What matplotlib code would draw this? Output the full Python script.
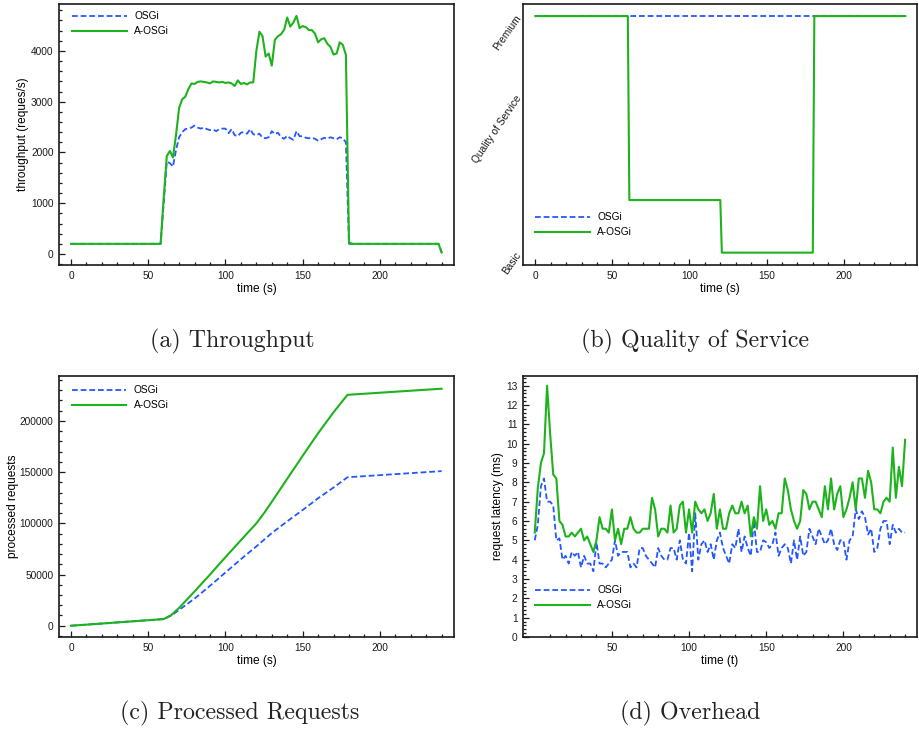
import numpy as np
import matplotlib
matplotlib.use("Agg")
import matplotlib.pyplot as plt
from matplotlib.ticker import MultipleLocator, FixedLocator

# ---------------- data ----------------
series_names = ["OSGi", "A-OSGi"]

# (a) throughput
tp_time = [0, 58, 60, 62, 64, 66, 68, 70, 72, 74, 76, 78, 80, 82, 84, 86, 88, 90,
           92, 94, 96, 98, 100, 102, 104, 106, 108, 110, 112, 114, 116, 118, 120,
           122, 124, 126, 128, 130, 132, 134, 136, 138, 140, 142, 144, 146, 148,
           150, 152, 154, 156, 158, 160, 162, 164, 166, 168, 170, 172, 174, 176,
           178, 180, 182, 238, 240]
tp_osgi = [200, 200, 1000, 1820, 1790, 1720, 2050, 2300, 2400, 2460, 2470, 2490,
           2530, 2490, 2470, 2490, 2460, 2440, 2450, 2420, 2460, 2470, 2470, 2380,
           2460, 2340, 2320, 2390, 2400, 2370, 2460, 2360, 2340, 2370, 2290, 2280,
           2300, 2420, 2360, 2390, 2300, 2270, 2330, 2280, 2250, 2420, 2320, 2320,
           2290, 2280, 2290, 2270, 2230, 2260, 2290, 2270, 2300, 2280, 2260, 2300,
           2280, 2200, 200, 200, 200, 30]
tp_aosgi = [200, 200, 1100, 1930, 2030, 1900, 2350, 2880, 3050, 3100, 3250, 3360,
            3350, 3390, 3400, 3390, 3380, 3360, 3400, 3390, 3380, 3390, 3370, 3380,
            3360, 3310, 3420, 3350, 3370, 3340, 3380, 3380, 4000, 4380, 4290, 3890,
            3950, 3710, 4220, 4290, 4330, 4420, 4660, 4480, 4560, 4690, 4450, 4490,
            4470, 4410, 4410, 4340, 4170, 4230, 4250, 4140, 4080, 3930, 3950, 4170,
            4120, 3920, 230, 200, 200, 30]

# (b) quality of service (Basic=1 ... Premium=10)
qos_levels = [1, 10]
qos_level_names = ["Basic", "Premium"]
qos_time_osgi = [0, 240]
qos_osgi = [10, 10]
qos_time_aosgi = [0, 60, 61, 120, 121, 180, 181, 240]
qos_aosgi = [10, 10, 3, 3, 1, 1, 10, 10]

# (c) processed requests
pr_time = [0, 60, 65, 70, 75, 80, 90, 100, 110, 120, 125, 130, 140, 150, 160,
           170, 179, 240]
pr_osgi = [0, 6500, 10000, 15500, 21000, 26500, 39000, 52000, 65000, 77500,
           84000, 90500, 102000, 113000, 124500, 135000, 145000, 151000]
pr_aosgi = [0, 6500, 10500, 17500, 25500, 33500, 50000, 67000, 83500, 100000,
            110000, 121000, 143500, 166000, 188000, 208500, 225500, 231500]

# (d) overhead: request latency sampled every 2 s
lat_time = np.arange(0, 241, 2)
lat_osgi = [5.0, 5.8, 7.8, 8.2, 7.0, 7.0, 6.8, 5.0, 5.1, 4.0, 4.2, 3.8, 4.4, 4.2,
            4.4, 3.6, 4.2, 3.8, 3.8, 3.4, 4.9, 3.8, 3.8, 3.6, 3.8, 4.0, 5.0, 4.2,
            4.4, 4.4, 4.4, 3.6, 3.8, 3.6, 4.6, 4.6, 4.2, 4.0, 3.8, 3.6, 4.6, 4.2,
            4.0, 4.0, 4.6, 4.6, 4.0, 5.0, 4.0, 3.8, 5.4, 3.4, 6.4, 4.0, 4.8, 5.0,
            4.4, 4.8, 4.0, 5.0, 5.4, 4.6, 4.2, 3.8, 4.8, 4.6, 5.6, 4.4, 5.2, 4.6,
            4.2, 6.0, 4.4, 4.4, 5.0, 4.9, 4.6, 4.8, 5.4, 4.2, 4.6, 4.8, 4.6, 3.8,
            5.0, 4.0, 5.2, 4.2, 4.4, 5.6, 5.2, 4.8, 5.6, 5.2, 4.8, 5.0, 5.6, 4.8,
            4.5, 5.0, 5.0, 4.0, 5.0, 5.2, 6.6, 6.1, 6.5, 6.2, 5.3, 5.6, 4.4, 4.6,
            5.6, 6.0, 6.0, 4.8, 5.8, 5.4, 5.6, 5.4, 5.4]
lat_aosgi = [5.4, 7.7, 9.0, 9.5, 13.0, 10.5, 8.4, 8.2, 6.0, 5.8, 5.2, 5.2, 5.4,
             5.2, 5.4, 5.6, 5.0, 5.2, 4.8, 4.4, 5.0, 6.2, 5.6, 5.6, 5.4, 6.6, 5.0,
             5.6, 4.8, 5.6, 5.6, 6.2, 5.6, 5.4, 5.4, 5.6, 5.6, 5.6, 7.2, 6.6, 5.2,
             5.6, 5.6, 5.4, 6.8, 5.4, 5.6, 6.8, 7.0, 5.4, 6.6, 5.4, 7.0, 6.6, 6.4,
             6.6, 6.0, 6.4, 7.4, 5.6, 6.6, 5.6, 5.6, 6.4, 6.8, 6.4, 6.4, 7.0, 6.4,
             6.8, 5.2, 6.2, 5.6, 7.8, 6.0, 6.6, 5.8, 6.0, 5.6, 6.4, 6.4, 8.2, 7.6,
             6.6, 6.0, 5.6, 6.0, 7.6, 7.4, 6.6, 7.0, 7.0, 6.6, 6.2, 7.8, 6.6, 8.2,
             6.6, 7.4, 7.8, 6.2, 6.6, 7.2, 8.0, 6.6, 8.2, 8.2, 7.2, 8.6, 8.0, 6.6,
             6.6, 6.4, 7.0, 7.2, 7.0, 9.8, 7.2, 8.8, 7.8, 10.2]

captions = ["(a) Throughput", "(b) Quality of Service",
            "(c) Processed Requests", "(d) Overhead"]

# ---------------- style ----------------
BLUE = "#2457ff"
GREEN = "#1db31d"
SANS = ["Liberation Sans", "DejaVu Sans"]
plt.rcParams["font.family"] = SANS
TICK_FS = 7.3
LABEL_FS = 8.6
W, H = 919, 729

fig = plt.figure(figsize=(W / 100, H / 100), dpi=100)


def make_axes(l, t, r, b):
    return fig.add_axes([l / W, (H - b) / H, (r - l) / W, (b - t) / H])


def style(ax):
    for s in ax.spines.values():
        s.set_linewidth(1.2)
        s.set_color("#1a1a1a")
    ax.tick_params(which="both", direction="in", top=False, right=False,
                   labelsize=TICK_FS, colors="#1a1a1a", width=0.9, pad=4)
    ax.tick_params(which="major", length=4.5)
    ax.tick_params(which="minor", length=2.2)


def draw_pair(ax, xo, yo, xa, ya):
    l1, = ax.plot(xo, yo, color=BLUE, lw=1.3, dashes=(3.2, 1.6),
                  label=series_names[0], zorder=2)
    l2, = ax.plot(xa, ya, color=GREEN, lw=1.5, label=series_names[1], zorder=3)
    return l1, l2


def legend(ax, x, y):
    ax.legend(loc="upper left", bbox_to_anchor=(x, y), frameon=False,
              fontsize=TICK_FS, handlelength=5.4, handletextpad=0.75,
              borderpad=0, borderaxespad=0, labelspacing=0.5)


def labels(ax, xl, yl, ylx, xly=-0.092):
    ax.set_xlabel(xl, fontsize=LABEL_FS)
    ax.xaxis.set_label_coords(0.5, xly)
    ax.xaxis.label.set_va("center")
    if yl is not None:
        ax.set_ylabel(yl, fontsize=LABEL_FS)
        ax.yaxis.set_label_coords(ylx, 0.5)
        ax.yaxis.label.set_va("center")


XLIM = (-7.8, 248)

# (a)
ax = make_axes(59, 4, 454, 265)
style(ax)
draw_pair(ax, tp_time, tp_osgi, tp_time, tp_aosgi)
ax.set_xlim(*XLIM)
ax.set_ylim(-217, 4925)
ax.xaxis.set_major_locator(MultipleLocator(50))
ax.xaxis.set_minor_locator(MultipleLocator(10))
ax.yaxis.set_major_locator(MultipleLocator(1000))
ax.yaxis.set_minor_locator(MultipleLocator(200))
labels(ax, "time (s)", "throughput (reques/s)", -0.091)
legend(ax, 0.033, 0.972)

# (b)
ax = make_axes(523, 4, 917, 265)
style(ax)
draw_pair(ax, qos_time_osgi, qos_osgi, qos_time_aosgi, qos_aosgi)
ax.set_xlim(-8, 247.6)
ax.set_ylim(0.53, 10.46)
ax.xaxis.set_major_locator(MultipleLocator(50))
ax.xaxis.set_minor_locator(MultipleLocator(10))
ax.set_yticks(qos_levels)
ax.set_yticklabels(qos_level_names, rotation=55, rotation_mode="anchor",
                   ha="right", va="center")
ax.tick_params(axis="y", length=0, pad=3)
labels(ax, "time (s)", None, None)
ax.text(-0.066, 0.52, "Quality of Service", transform=ax.transAxes,
        rotation=56, ha="center", va="center", fontsize=TICK_FS, color="#1a1a1a")
legend(ax, 0.030, 0.202)

# (c)
ax = make_axes(59, 376, 454, 637)
style(ax)
draw_pair(ax, pr_time, pr_osgi, pr_time, pr_aosgi)
ax.set_xlim(*XLIM)
ax.set_ylim(-11000, 243900)
ax.xaxis.set_major_locator(MultipleLocator(50))
ax.xaxis.set_minor_locator(MultipleLocator(10))
ax.yaxis.set_major_locator(MultipleLocator(50000))
ax.yaxis.set_minor_locator(MultipleLocator(10000))
labels(ax, "time (s)", "processed requests", -0.116)
legend(ax, 0.032, 0.965)

# (d)
ax = make_axes(523, 376, 917, 637)
style(ax)
draw_pair(ax, lat_time, lat_osgi, lat_time, lat_aosgi)
ax.set_xlim(-7.6, 247.7)
ax.set_ylim(0, 13.5)
ax.xaxis.set_major_locator(FixedLocator([50, 100, 150, 200]))
ax.xaxis.set_minor_locator(FixedLocator([10, 20, 30, 40, 60, 70, 80, 90, 110, 120,
                                         130, 140, 160, 170, 180, 190, 210, 220,
                                         230, 240]))
ax.yaxis.set_major_locator(MultipleLocator(1))
ax.yaxis.set_minor_locator(MultipleLocator(0.2))
labels(ax, "time (t)", "request latency (ms)", -0.063)
legend(ax, 0.030, 0.198)

# captions
cap_pos = [(232, 341), (695, 341), (240, 713), (690, 713)]
for txt, (cx, cy) in zip(captions, cap_pos):
    fig.text(cx / W, 1 - cy / H, txt, ha="center", va="center",
             fontsize=17.2, family="cmr10", color="#222222")

fig.savefig("out.png", dpi=100)
